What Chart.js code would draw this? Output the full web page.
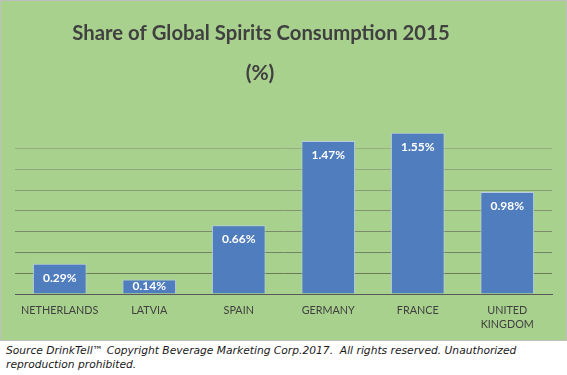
<!DOCTYPE html>
<html>
<head>
<meta charset="utf-8">
<script src="https://cdn.jsdelivr.net/npm/chart.js@4"></script>
<style>
  html, body { margin: 0; padding: 0; background: #ffffff; }
  body { width: 567px; height: 375px; position: relative; overflow: hidden; }
  #wrap { position: absolute; left: 0; top: 0; width: 567px; height: 341px; }
  #note { position: absolute; left: 6px; top: 344px; width: 560px;
          font-family: "DejaVu Sans", Verdana, sans-serif; font-style: italic;
          font-size: 10.7px; line-height: 14px; color: #1a1a1a; }
</style>
</head>
<body>
<div id="wrap"><canvas id="c" width="567" height="341"></canvas></div>
<div id="note">Source DrinkTell™ Copyright Beverage Marketing Corp.2017.&nbsp; All rights reserved. Unauthorized reproduction prohibited.</div>
<script>
const categories = [["NETHERLANDS"], ["LATVIA"], ["SPAIN"], ["GERMANY"], ["FRANCE"], ["UNITED", "KINGDOM"]];
const shares = [0.29, 0.14, 0.66, 1.47, 1.55, 0.98];
const titleLines = ["Share of Global Spirits Consumption 2015", "(%)"];
const yMin = 0, yMax = 1.6, yStep = 0.2;

const panelBg = {
  id: 'panelBg',
  beforeDraw(chart) {
    const c = chart.ctx;
    c.save();
    c.fillStyle = '#a9d18e';
    c.fillRect(0, 0, chart.width, chart.height);
    c.strokeStyle = '#bfbfbf';
    c.lineWidth = 1;
    c.strokeRect(0.5, 0.5, chart.width - 1, chart.height - 1);
    c.restore();
  }
};

const titleText = {
  id: 'titleText',
  afterDraw(chart) {
    const c = chart.ctx;
    c.save();
    c.fillStyle = '#404040';
    c.font = 'bold 20.3px Lato, sans-serif';
    c.textAlign = 'center';
    c.textBaseline = 'middle';
    c.fillText(titleLines[0], 261, 33);
    c.font = 'bold 21px Lato, sans-serif';
    c.fillText(titleLines[1], 260, 73);
    c.restore();
  }
};

const valueLabels = {
  id: 'valueLabels',
  afterDatasetsDraw(chart) {
    const c = chart.ctx;
    const meta = chart.getDatasetMeta(0);
    c.save();
    c.fillStyle = '#ffffff';
    c.font = 'bold 12px Lato, sans-serif';
    c.textAlign = 'center';
    c.textBaseline = 'middle';
    meta.data.forEach((bar, i) => {
      const y = Math.min(bar.y + 14, (bar.y + bar.base) / 2);
      c.fillText(shares[i].toFixed(2) + '%', bar.x, y);
    });
    c.restore();
  }
};

function gridColor(ctx) {
  const v = ctx.tick ? ctx.tick.value : 0;
  if (v <= 0.001 || v >= yMax - 0.001) return 'rgba(0,0,0,0)';
  const t = (v - 0.2) / 1.2; // 0 bottom .. 1 top
  const r = Math.round(108 + t * 42), g = Math.round(122 + t * 52), b = Math.round(92 + t * 40);
  return `rgb(${r},${g},${b})`;
}

new Chart(document.getElementById('c'), {
  type: 'bar',
  data: {
    labels: categories,
    datasets: [{
      data: shares,
      backgroundColor: '#4f7dbd',
      borderColor: '#b8cbe6',
      borderWidth: 1,
      barPercentage: 0.6,
      categoryPercentage: 1.0
    }]
  },
  options: {
    responsive: false,
    animation: false,
    devicePixelRatio: 1,
    layout: { padding: { left: 15, right: 15, top: 127.6, bottom: 0 } },
    plugins: {
      legend: { display: false },
      tooltip: { enabled: false },
      title: { display: false }
    },
    scales: {
      x: {
        grid: { display: false, drawTicks: false },
        border: { display: true, color: '#595959', width: 1 },
        ticks: { color: '#404040', font: { family: 'Lato, sans-serif', size: 10.8, lineHeight: 1.35 }, padding: 9, maxRotation: 0, autoSkip: false },
        afterFit(scale) { scale.height = 47; }
      },
      y: {
        min: yMin, max: yMax,
        ticks: { display: false, stepSize: yStep },
        grid: { color: gridColor, drawTicks: false, lineWidth: 1 },
        border: { display: false }
      }
    }
  },
  plugins: [panelBg, valueLabels, titleText]
});
</script>
</body>
</html>
